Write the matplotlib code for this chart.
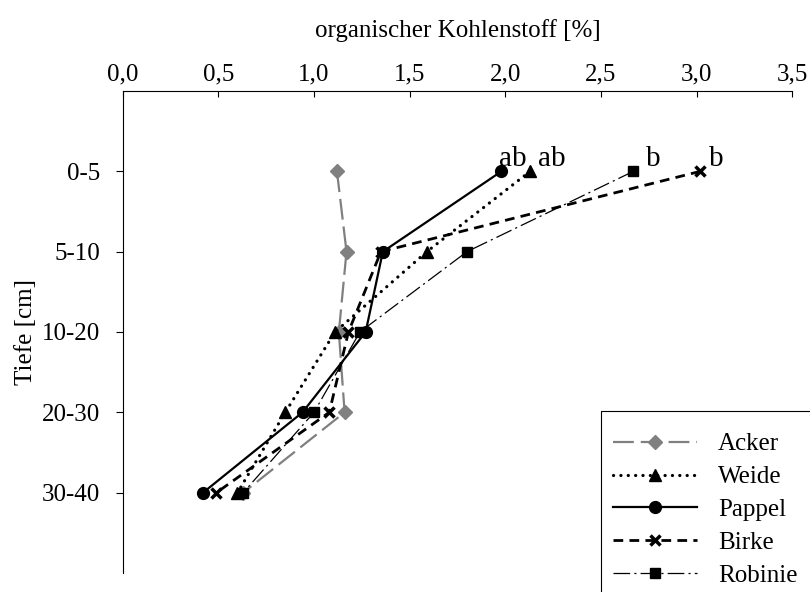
import matplotlib
matplotlib.use("Agg")
import matplotlib.pyplot as plt
from matplotlib.patches import Rectangle

plt.rcParams['font.family'] = ['Liberation Serif', 'DejaVu Serif']
plt.rcParams['lines.scale_dashes'] = False

depths = ["0-5", "5-10", "10-20", "20-30", "30-40"]
acker = [1.12, 1.17, 1.13, 1.16, 0.63]
weide = [2.13, 1.59, 1.11, 0.85, 0.60]
pappel = [1.98, 1.36, 1.27, 0.94, 0.42]
birke = [3.02, 1.35, 1.18, 1.08, 0.49]
robinie = [2.67, 1.80, 1.24, 1.00, 0.63]
letters = {"Pappel": "ab", "Weide": "ab", "Robinie": "b", "Birke": "b"}
xticks = [0.0, 0.5, 1.0, 1.5, 2.0, 2.5, 3.0, 3.5]
xticklabels = ["0,0", "0,5", "1,0", "1,5", "2,0", "2,5", "3,0", "3,5"]

FS = 18
W, H = 810, 592
fig = plt.figure(figsize=(W / 100, H / 100), dpi=100)
ax = fig.add_axes([0.1515, 0.0321, 0.978 - 0.1515, 0.8463 - 0.0321])

pos = list(range(1, len(depths) + 1))

styles = {
    "Acker": dict(color="#808080", lw=1.6, marker="D", ms=7, dashes=(15, 5)),
    "Weide": dict(color="black", lw=2.3, marker="^", ms=8.5, dashes=(0.1, 5.2),
                  dash_capstyle="round"),
    "Pappel": dict(color="black", lw=1.6, marker="o", ms=8.5, linestyle="-"),
    "Birke": dict(color="black", lw=2.0, marker="x", ms=7.5, mew=2.5, dashes=(7, 4.5)),
    "Robinie": dict(color="black", lw=0.9, marker="s", ms=7.5, dashes=(12, 3, 1.5, 3)),
}
data = {"Acker": acker, "Weide": weide, "Pappel": pappel, "Birke": birke, "Robinie": robinie}

ax.set_xlim(0, 3.5)
ax.set_ylim(6, 0)

for name, vals in data.items():
    ax.plot(vals, pos, label=name, **styles[name])

offsets = {"Pappel": (-1.5, 4), "Weide": (6, 4), "Robinie": (9, 4), "Birke": (6, 4)}
for name, lab in letters.items():
    ax.annotate(lab, xy=(data[name][0], pos[0]), xytext=offsets[name],
                textcoords="offset points", ha="left", va="baseline", fontsize=21)

ax.xaxis.set_ticks_position("top")
ax.xaxis.set_label_position("top")
ax.set_xticks(xticks)
ax.set_xticklabels(xticklabels)
ax.set_yticks(pos)
ax.set_yticklabels(depths)
ax.tick_params(axis="x", direction="in", length=4.5, width=0.8, pad=4, labelsize=FS)
ax.tick_params(axis="y", direction="out", length=5, width=0.8, pad=11, labelsize=FS)
ax.set_xlabel("organischer Kohlenstoff [%]", fontsize=FS, labelpad=19)
ax.set_ylabel("Tiefe [cm]", fontsize=FS, labelpad=4)

for s in ["right", "bottom"]:
    ax.spines[s].set_visible(False)
for s in ["top", "left"]:
    ax.spines[s].set_linewidth(0.8)

# legend frame (extends beyond the figure edge like the reference)
frame = Rectangle((601 / W, -0.1), 1.0, (1 - 411 / H) + 0.1,
                  transform=fig.transFigure, facecolor="white",
                  edgecolor="black", linewidth=0.8, zorder=3, clip_on=False)
ax.add_artist(frame)
leg = ax.legend(loc="upper left", bbox_to_anchor=(613 / W, 1 - 433 / H),
                bbox_transform=fig.transFigure, borderaxespad=0, borderpad=0,
                fontsize=FS, handlelength=3.36, handletextpad=0.85,
                labelspacing=0.41, frameon=False)
leg.set_zorder(6)

fig.savefig("out.png", dpi=100)
